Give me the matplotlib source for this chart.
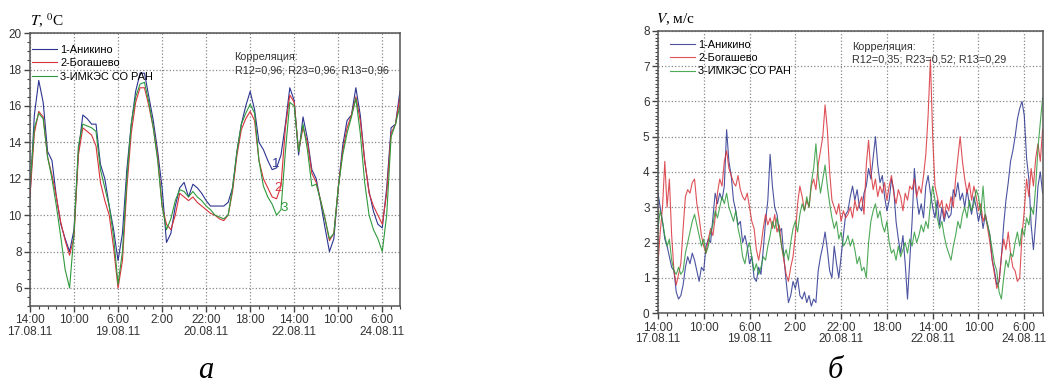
import numpy as np
import matplotlib.pyplot as plt
from matplotlib.ticker import MultipleLocator

plt.rcParams['font.family'] = ['Liberation Sans', 'DejaVu Sans']
plt.rcParams['mathtext.fontset'] = 'stix'

# hours since 17.08.11 14:00
tick_hours = [0, 20, 40, 60, 80, 100, 120, 140, 160]
tick_labels = ['14:00\n17.08.11', '10:00', '6:00\n19.08.11', '2:00', '22:00\n20.08.11',
               '18:00', '14:00\n22.08.11', '10:00', '6:00\n24.08.11']
names = ['1-Аникино', '2-Богашево', '3-ИМКЭС СО РАН']
colors = ['#2c3590', '#d8333b', '#2f9a3c']

# temperature, every 2 hours
t_hours = np.arange(0, 169, 2)
temp1 = [11.0, 15.5, 17.4, 16.2, 13.5, 13.0, 11.0, 9.5, 8.7, 8.0, 9.2, 13.5,
         15.5, 15.3, 15.0, 15.0, 12.8, 12.0, 10.5, 9.2, 7.5, 9.0, 12.5, 15.0,
         16.8, 17.8, 17.8, 16.5, 15.2, 13.5, 11.5, 8.5, 9.0, 10.5, 11.5, 11.8,
         11.0, 11.7, 11.5, 11.2, 10.8, 10.5, 10.5, 10.5, 10.5, 10.7, 11.5, 13.5,
         15.0, 16.0, 16.8, 15.8, 14.0, 13.6, 13.0, 12.5, 12.6, 13.3, 15.0, 17.0,
         16.3, 13.3, 15.4, 14.2, 12.5, 12.0, 10.7, 9.3, 8.0, 8.7, 11.5, 13.8,
         15.2, 15.5, 17.0, 15.5, 13.0, 11.3, 10.2, 9.5, 9.3, 11.5, 14.8, 15.0, 16.8]
temp2 = [11.0, 14.5, 15.7, 15.4, 13.2, 12.2, 11.0, 9.6, 8.6, 7.8, 8.8, 13.3,
         14.8, 14.6, 14.4, 13.8, 11.8, 10.8, 10.0, 8.2, 6.0, 7.5, 11.5, 14.5,
         16.2, 17.0, 17.0, 16.0, 14.8, 13.2, 10.5, 9.5, 9.2, 10.0, 11.2, 11.0,
         10.8, 11.0, 10.7, 10.5, 10.3, 10.1, 10.0, 9.8, 9.7, 10.0, 11.3, 13.3,
         14.7, 15.3, 15.7, 15.2, 13.0, 12.0, 11.5, 11.0, 10.9, 11.6, 14.8, 16.6,
         16.2, 13.5, 14.8, 14.0, 12.3, 11.8, 10.8, 9.8, 8.6, 9.0, 11.5, 13.5,
         14.8, 15.5, 16.5, 15.2, 13.0, 11.2, 10.5, 10.0, 9.5, 11.2, 14.5, 15.0, 16.5]
temp3 = [11.5, 14.8, 15.6, 15.3, 13.2, 12.0, 10.5, 8.8, 7.0, 6.0, 9.0, 13.8,
         15.0, 14.9, 14.8, 14.6, 12.5, 11.5, 10.5, 8.8, 6.2, 8.0, 12.0, 15.0,
         16.5, 17.2, 17.3, 16.2, 14.8, 13.0, 10.5, 9.2, 9.8, 10.8, 11.4, 11.3,
         11.0, 11.3, 11.0, 10.8, 10.5, 10.3, 10.0, 9.9, 9.8, 10.0, 11.5, 13.5,
         15.0, 15.6, 16.1, 15.6, 13.0, 11.6, 11.0, 10.6, 10.0, 10.3, 13.5, 16.2,
         16.0, 13.5, 15.0, 13.6, 11.6, 11.7, 10.8, 9.8, 8.7, 9.0, 11.5, 13.3,
         14.5, 15.4, 16.4, 14.5, 11.8, 10.0, 9.2, 8.7, 8.0, 10.0, 14.3, 15.0, 16.0]

# wind speed, hourly
v_hours = np.arange(0, 169, 1)
wind1 = [3.4, 3.0, 2.6, 2.1, 1.9, 1.6, 1.3, 1.2, 0.6, 0.4, 0.5, 0.8,
         1.3, 1.6, 1.4, 1.7, 1.5, 1.2, 0.9, 1.3, 1.2, 1.9, 2.1, 2.0,
         2.7, 3.4, 3.1, 3.4, 3.2, 3.6, 5.2, 4.3, 3.9, 3.2, 2.9, 2.5,
         2.6, 2.0, 2.2, 1.9, 1.4, 1.6, 1.0, 0.9, 1.3, 1.1, 1.8, 2.6,
         3.2, 4.5, 3.6, 3.0, 2.8, 2.3, 2.4, 1.6, 0.9, 0.3, 0.5, 0.9,
         0.7, 1.0, 0.5, 0.4, 0.6, 0.3, 0.5, 0.2, 0.4, 0.3, 1.2, 1.6,
         1.9, 2.3, 1.8, 1.2, 1.0, 1.9, 1.4, 1.0, 1.6, 2.2, 2.8, 2.9,
         3.3, 3.6, 3.2, 3.5, 3.0, 2.9, 3.4, 3.6, 4.1, 3.8, 4.4, 5.0,
         4.2, 3.7, 3.9, 3.3, 2.9, 3.2, 3.8, 3.5, 2.6, 2.1, 1.7, 2.2,
         1.4, 0.4, 1.5, 2.6, 4.1, 3.3, 2.8, 3.1, 2.7, 3.6, 3.9, 3.4,
         3.0, 2.7, 3.2, 2.5, 3.0, 2.6, 2.9, 2.7, 2.8, 3.5, 3.3, 3.7,
         3.2, 3.4, 3.0, 3.5, 3.1, 2.8, 3.3, 3.0, 2.6, 2.9, 2.4, 2.8,
         2.5, 2.2, 1.5, 1.2, 0.8, 0.9, 1.6, 2.5, 3.2, 3.7, 4.3, 4.6,
         5.0, 5.5, 5.8, 6.0, 5.6, 4.4, 3.8, 2.5, 1.8, 2.6, 3.6, 4.0, 3.4]
wind2 = [1.4, 2.3, 3.0, 4.3, 3.0, 3.8, 2.2, 1.2, 0.8, 1.1, 1.4, 2.4,
         3.3, 3.5, 3.4, 3.7, 3.8, 3.1, 2.7, 2.2, 1.9, 1.7, 2.1, 2.4,
         2.2, 2.7, 3.4, 3.8, 3.6, 4.3, 4.6, 4.1, 3.9, 3.7, 3.6, 3.9,
         3.5, 3.3, 3.2, 3.4, 3.0, 2.6, 2.4, 1.8, 1.5, 1.9, 2.4, 2.8,
         2.5, 2.7, 2.4, 2.8, 2.3, 2.5, 1.9, 1.5, 1.1, 0.9, 1.3, 1.6,
         2.2, 3.1, 3.6, 3.3, 2.9, 3.2, 3.0, 3.6, 3.8, 3.5, 4.2, 4.6,
         5.0, 5.9, 5.2, 4.0, 3.2, 3.0, 2.8, 3.1, 2.6, 2.9, 2.7, 2.8,
         3.0, 2.7, 3.2, 2.9, 3.1, 3.3, 2.8, 4.2, 4.9, 4.0, 3.5, 3.8,
         3.3, 3.6, 3.4, 3.7, 3.2, 3.6, 3.9, 3.4, 3.1, 3.5, 3.3, 2.9,
         3.4, 3.2, 3.6, 3.5, 3.8, 3.3, 3.6, 3.4, 3.9, 4.5, 5.6, 7.2,
         5.0, 3.6, 3.3, 3.0, 3.2, 2.7, 3.1, 2.9, 3.3, 3.0, 3.8, 4.4,
         5.0, 4.3, 3.8, 3.4, 3.7, 3.2, 3.6, 3.3, 2.9, 3.1, 2.6, 2.8,
         2.4, 2.0, 1.5, 1.1, 0.7, 0.9, 1.6, 2.1, 1.8, 2.3, 1.7, 1.3,
         1.2, 0.9, 1.0, 2.2, 2.9, 3.8, 3.3, 4.1, 3.6, 4.4, 4.8, 4.3, 5.2]
wind3 = [2.4, 2.9, 2.6, 2.2, 1.9, 2.1, 1.5, 1.2, 1.1, 1.3, 1.1, 1.2,
         1.7, 2.0, 2.3, 2.6, 2.8, 2.5, 2.2, 1.9, 2.1, 1.7, 1.9, 2.3,
         2.5, 2.9, 2.7, 3.0, 3.3, 3.1, 3.4, 3.0, 2.8, 2.6, 2.9, 2.4,
         2.1, 1.6, 1.4, 1.8, 2.0, 1.6, 1.2, 1.4, 1.1, 1.3, 1.6, 1.5,
         1.9, 2.2, 2.6, 2.4, 2.7, 2.3, 1.9, 1.6, 1.8, 1.5, 2.0, 2.4,
         2.6, 2.3, 2.8, 3.1, 2.9, 3.3, 3.0, 3.7, 4.1, 4.8, 3.9, 3.4,
         3.8, 4.2, 3.6, 3.1, 2.7, 2.4, 2.6, 2.1, 2.3, 1.9, 2.0, 2.2,
         1.9, 2.1, 1.8, 1.4, 1.6, 1.2, 1.3, 1.0, 2.0, 2.6, 2.9, 3.1,
         2.7, 2.9, 2.5, 2.3, 2.6, 2.0, 1.7, 1.8, 1.5, 1.9, 1.6, 1.8,
         2.0, 1.7, 2.1, 1.9, 2.3, 2.0, 2.2, 2.5, 2.3, 2.6, 2.4, 3.1,
         3.6, 3.2, 2.7, 2.4, 2.6, 2.2, 1.9, 1.7, 1.5, 1.9, 2.2, 2.6,
         2.4, 2.8, 3.0, 2.7, 3.2, 2.9, 3.1, 3.5, 3.3, 2.8, 3.6, 2.7,
         2.5, 2.2, 1.8, 1.4, 1.2, 0.6, 0.4, 1.0, 1.5, 1.3, 1.7, 1.6,
         2.0, 2.3, 1.9, 2.4, 2.2, 2.7, 2.5, 3.0, 2.8, 3.6, 4.7, 5.4, 6.1]

corr_t = 'Корреляция:\nR12=0,96; R23=0,96; R13=0,96'
corr_v = 'Корреляция:\nR12=0,35; R23=0,52; R13=0,29'


def style_axes(ax, ymin, ymax, ymajor, yminor):
    ax.set_xlim(0, 168)
    ax.set_ylim(ymin, ymax)
    ax.set_xticks(tick_hours)
    ax.set_xticklabels(tick_labels, fontsize=8.5, color='#333333', linespacing=0.95)
    ax.xaxis.set_minor_locator(MultipleLocator(4))
    ax.yaxis.set_major_locator(MultipleLocator(ymajor))
    ax.yaxis.set_minor_locator(MultipleLocator(yminor))
    ax.tick_params(axis='both', which='major', length=4, width=1, color='#444444',
                   labelsize=8.5, labelcolor='#333333', pad=2)
    ax.tick_params(axis='both', which='minor', length=2, width=0.8, color='#444444')
    ax.grid(True, which='major', linestyle=':', color='#888888', linewidth=0.9)
    for sp in ax.spines.values():
        sp.set_color('#555555')
        sp.set_linewidth(1.1)


fig = plt.figure(figsize=(10.51, 3.90), dpi=100)
ax1 = fig.add_axes([0.0285, 0.215, 0.352, 0.70])
ax2 = fig.add_axes([0.626, 0.197, 0.366, 0.724])

leg_kw = dict(loc='upper left', frameon=False, fontsize=7.9, handlelength=2.3,
              handletextpad=0.25, labelspacing=0.3, borderaxespad=0.3)

# temperature panel
for vals, c, n in zip([temp1, temp2, temp3], colors, names):
    ax1.plot(t_hours, vals, color=c, lw=0.8, label=n)
style_axes(ax1, 5, 20, 2, 0.5)
ax1.set_yticks([6, 8, 10, 12, 14, 16, 18, 20])
ax1.legend(bbox_to_anchor=(-0.015, 0.985), **leg_kw)
ax1.text(0.553, 0.93, corr_t, transform=ax1.transAxes, fontsize=7.8, color='#333333',
         va='top', linespacing=1.35)
ax1.text(111.4, 12.8, '1', color=colors[0], fontsize=9.5, ha='center', va='center')
ax1.text(112.6, 11.5, '2', color=colors[1], fontsize=9.5, ha='center', va='center')
ax1.text(115.3, 10.4, '3', color=colors[2], fontsize=9.5, ha='center', va='center')
ax1.text(0.0, 1.012, r'$T$, $^{0}$C', transform=ax1.transAxes, fontsize=11,
         family='Liberation Serif', va='bottom')

# wind panel
for vals, c, n in zip([wind1, wind2, wind3], colors, names):
    ax2.plot(v_hours, vals, color=c, lw=0.8, alpha=0.85, label=n)
style_axes(ax2, 0, 8, 1, 0.1)
ax2.legend(bbox_to_anchor=(0.012, 0.995), **leg_kw)
ax2.text(0.505, 0.96, corr_v, transform=ax2.transAxes, fontsize=7.8, color='#333333',
         va='top', linespacing=1.35)
ax2.text(-0.005, 1.012, r'$V$, м/с', transform=ax2.transAxes, fontsize=11,
         family='Liberation Serif', va='bottom')

fig.text(0.196, 0.03, 'а', fontsize=22, style='italic', family='Liberation Serif', ha='center')
fig.text(0.795, 0.03, 'б', fontsize=22, style='italic', family='Liberation Serif', ha='center')

fig.savefig('out.png', dpi=100)
